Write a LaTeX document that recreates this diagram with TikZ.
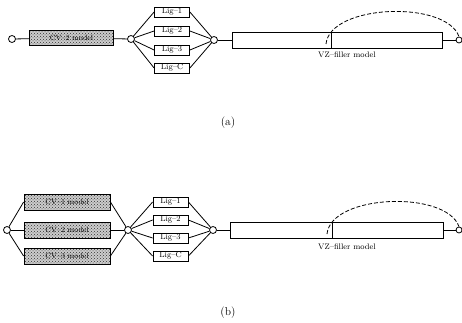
\documentclass[tikz,border=0pt]{standalone}
\usetikzlibrary{patterns}
\begin{document}
\begin{tikzpicture}[x=1pt, y=-1pt,
  jn/.style={draw, thick, circle, inner sep=0pt, minimum size=7pt, fill=white},
  cvbox/.style={draw, thick, preaction={fill=black!20}, pattern=crosshatch dots,
                pattern color=black!80,
                minimum width=84pt, minimum height=15pt, inner sep=0pt,
                font=\fontsize{7.5}{8}\selectfont},
  lig/.style={draw, thick, minimum width=35pt, minimum height=10pt, inner sep=0pt,
              font=\fontsize{8}{9}\selectfont},
  fil/.style={draw, thick, minimum height=16pt, inner sep=0pt},
  lab/.style={font=\fontsize{8}{9}\selectfont},
  subcap/.style={font=\fontsize{11.5}{13}\selectfont},
  dsh/.style={thick, dash pattern=on 4pt off 2pt}]
  \useasboundingbox (0,0) rectangle (462,323);
  % (a) one model
  \node[jn] (a0) at (12,39) {};
  \node[cvbox] (acv) at (71.5,38) {CV--2 model};
  \node[jn] (a1) at (131,39) {};
  \node[lig] (al1) at (172,12) {Lig--1};
  \node[lig] (al2) at (172,31) {Lig--2};
  \node[lig] (al3) at (172,50) {Lig--3};
  \node[lig] (al4) at (172,68) {Lig--C};
  \node[jn] (a2) at (214,40) {};
  \node[fil, minimum width=99pt] (afa) at (281.5,40) {};
  \node[fil, minimum width=111pt] (afb) at (386.5,40) {};
  \node[jn, minimum size=6pt] (a3) at (459,40) {};
  \node[lab] (avz) at (347,55) {VZ--filler model};
  \coordinate (ast) at (326,44);
  \draw[thick] (a0) -- (acv) -- (a1);
  \foreach \i in {1,...,4} \draw[thick] (a1) -- (al\i.west) (al\i.east) -- (a2);
  \draw[thick] (a2) -- (afa) (afb) -- (a3);
  \draw[dsh] (ast) .. controls (330,4) and (446,0) .. (a3.north);
  \node[subcap] (acap) at (228,123) {(a)};
  % (b) three models
  \node[jn] (b0) at (7,230) {};
  \node[cvbox, minimum width=86pt, minimum height=16pt] (bcv1) at (67,202) {CV--1 model};
  \node[cvbox, minimum width=86pt, minimum height=16pt] (bcv2) at (67,230) {CV--2 model};
  \node[cvbox, minimum width=86pt, minimum height=16pt] (bcv3) at (67,256) {CV--3 model};
  \node[jn] (b1) at (128,230) {};
  \node[lig] (bl1) at (170.5,202) {Lig--1};
  \node[lig] (bl2) at (170.5,220) {Lig--2};
  \node[lig] (bl3) at (170.5,238) {Lig--3};
  \node[lig] (bl4) at (170.5,256) {Lig--C};
  \node[jn] (b2) at (213,230) {};
  \node[fil, minimum width=102pt] (bfa) at (281,230) {};
  \node[fil, minimum width=111pt] (bfb) at (387.5,230) {};
  \node[jn, minimum size=6pt] (b3) at (459,230) {};
  \node[lab] (bvz) at (347,247) {VZ--filler model};
  \coordinate (bst) at (327,234);
  \foreach \i in {1,2,3} \draw[thick] (b0) -- (bcv\i.west) (bcv\i.east) -- (b1);
  \foreach \i in {1,...,4} \draw[thick] (b1) -- (bl\i.west) (bl\i.east) -- (b2);
  \draw[thick] (b2) -- (bfa) (bfb) -- (b3);
  \draw[dsh] (bst) .. controls (331,194) and (446,190) .. (b3.north);
  \node[subcap] (bcap) at (228,313) {(b)};
\end{tikzpicture}
\end{document}
